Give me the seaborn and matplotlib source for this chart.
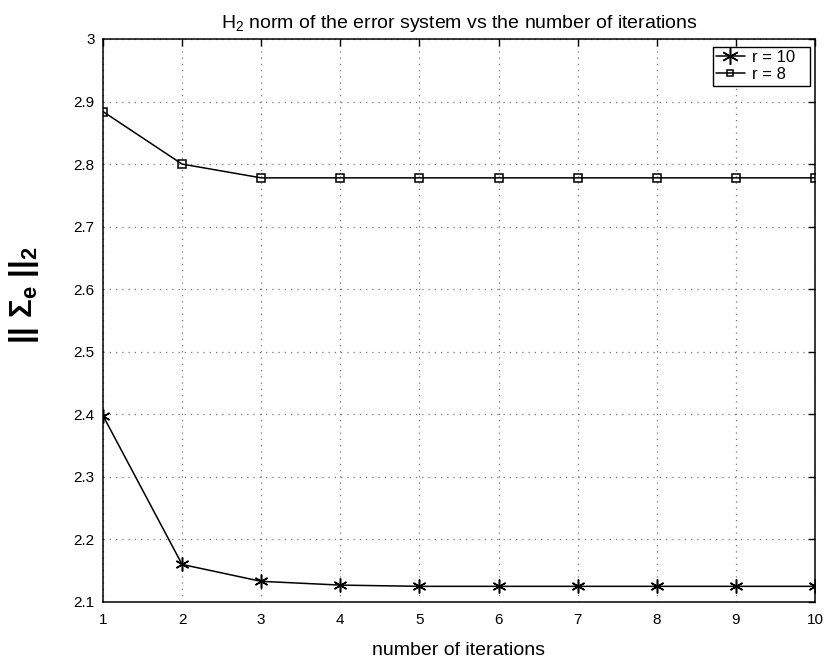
import matplotlib
matplotlib.use("Agg")
import matplotlib.pyplot as plt
import seaborn as sns
import pandas as pd

# H2 norm of the error system per iteration, for two reduced orders
iterations = [1, 2, 3, 4, 5, 6, 7, 8, 9, 10]
norm_r10 = [2.398, 2.160, 2.133, 2.127, 2.125, 2.125, 2.125, 2.125, 2.125, 2.125]
norm_r8 = [2.884, 2.800, 2.778, 2.778, 2.778, 2.778, 2.778, 2.778, 2.778, 2.778]
series_names = ["r = 10", "r = 8"]
x_ticks = [1, 2, 3, 4, 5, 6, 7, 8, 9, 10]
y_ticks = [2.1, 2.2, 2.3, 2.4, 2.5, 2.6, 2.7, 2.8, 2.9, 3.0]
y_tick_labels = ["2.1", "2.2", "2.3", "2.4", "2.5", "2.6", "2.7", "2.8", "2.9", "3"]

df_r10 = pd.DataFrame({"iteration": iterations, "norm": norm_r10})
df_r8 = pd.DataFrame({"iteration": iterations, "norm": norm_r8})

sns.set_theme(style="white")
plt.rcParams["font.family"] = ["Liberation Sans", "DejaVu Sans"]
plt.rcParams["mathtext.fontset"] = "custom"
plt.rcParams["mathtext.rm"] = "Liberation Sans"
plt.rcParams["mathtext.it"] = "Liberation Sans:italic"
plt.rcParams["mathtext.bf"] = "Liberation Sans:bold"
for key in ["text.color", "axes.labelcolor", "xtick.color", "ytick.color",
            "xtick.labelcolor", "ytick.labelcolor"]:
    plt.rcParams[key] = "black"

fig = plt.figure(figsize=(8.25, 6.64), dpi=100)
ax = fig.add_axes([0.1248, 0.0934, 0.8631, 0.8479])

# asterisk markers (6-point line star)
sns.lineplot(data=df_r10, x="iteration", y="norm", color="black", linewidth=1.1,
             marker=(6, 2, 0), markersize=10, markeredgecolor="black",
             markeredgewidth=1.1, label=series_names[0], ax=ax)
# open square markers
sns.lineplot(data=df_r8, x="iteration", y="norm", color="black", linewidth=1.1,
             marker="s", markersize=6, markerfacecolor="none",
             markeredgecolor="black", markeredgewidth=1.1,
             label=series_names[1], ax=ax)

ax.set_xlim(1, 10)
ax.set_ylim(2.1, 3.0)
ax.set_xticks(x_ticks)
ax.set_yticks(y_ticks)
ax.set_yticklabels(y_tick_labels)
ax.tick_params(axis="both", direction="in", length=5, width=1, color="black",
               labelcolor="black", labelsize=11, top=True, right=True, pad=6)
ax.tick_params(axis="x", pad=8)
for spine in ax.spines.values():
    spine.set_color("black")
    spine.set_linewidth(1.1)
ax.grid(True, linestyle=(0, (1, 4)), color="#777777", linewidth=0.9)

ax.set_title(r"$\mathregular{H_2}$ norm of the error system vs the number of iterations",
             fontsize=14, pad=8, color="black")
ax.set_xlabel("number of iterations", fontsize=14, labelpad=11, color="black")
ax.set_ylabel(r"$\mathbf{||\ \Sigma_e\ ||_2}$", fontsize=22.5, color="black")
ax.yaxis.set_label_coords(-0.087, 0.545)

handles, labels = ax.get_legend_handles_labels()
leg = ax.legend(handles, labels, loc="upper left", mode="expand", fontsize=12,
                frameon=True, fancybox=False, edgecolor="black", framealpha=1,
                borderpad=0.2, handlelength=1.7, handletextpad=0.45,
                labelspacing=0.12, borderaxespad=0, labelcolor="black",
                bbox_to_anchor=(0.8567, 0.9183, 0.1362, 0.0675))
leg.get_frame().set_linewidth(1.0)
for h in leg.legend_handles:
    if h.get_marker() == "s":
        h.set_markersize(5)
    else:
        h.set_markersize(12)

fig.savefig("out.png", dpi=100)
